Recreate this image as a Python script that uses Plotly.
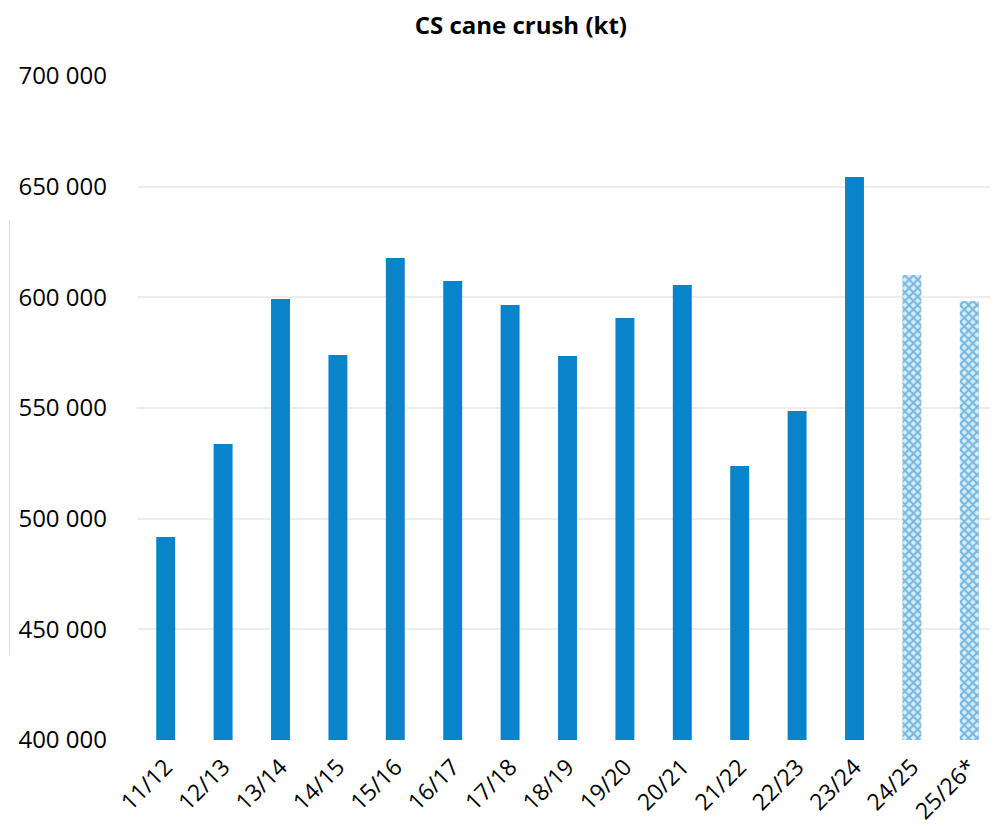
import plotly.graph_objects as go

categories = ["11/12", "12/13", "13/14", "14/15", "15/16", "16/17", "17/18", "18/19",
              "19/20", "20/21", "21/22", "22/23", "23/24", "24/25", "25/26*"]
crush_kt = [491700, 533700, 599200, 573900, 617800, 607400, 596500, 573500,
            590700, 605600, 523800, 548600, 654400, 610100, 598300]
forecast = [False] * 13 + [True, True]
tick_vals = [400000, 450000, 500000, 550000, 600000, 650000, 700000]
tick_text = ["400 000", "450 000", "500 000", "550 000", "600 000", "650 000", "700 000"]

blue = "#0984CA"
fig = go.Figure()
fig.add_trace(go.Bar(
    x=[c for c, f in zip(categories, forecast) if not f],
    y=[v for v, f in zip(crush_kt, forecast) if not f],
    marker=dict(color=blue, line=dict(width=0)),
    width=0.33,
))
fig.add_trace(go.Bar(
    x=[c for c, f in zip(categories, forecast) if f],
    y=[v for v, f in zip(crush_kt, forecast) if f],
    marker=dict(color="white", line=dict(width=0),
                pattern=dict(shape="x", fgcolor="#0A82C8", bgcolor="#D8ECF7", size=6, solidity=0.55)),
    width=0.33,
))
fig.update_layout(
    width=990, height=822,
    margin=dict(l=129, r=0, t=68, b=90),
    paper_bgcolor="white", plot_bgcolor="white",
    showlegend=False,
    barmode="overlay",
    font=dict(family="Open Sans, Liberation Sans, sans-serif", size=22, color="black"),
    title=dict(text="<b>CS cane crush (kt)</b>", x=0.518, xanchor="center", y=0.978, yanchor="middle",
               font=dict(size=24, color="black")),
    xaxis=dict(categoryorder="array", categoryarray=categories, tickangle=-45,
               showline=False, showgrid=False, ticks="", tickfont=dict(size=23),
               ticklabelstandoff=8, automargin=False),
    yaxis=dict(range=[400000, 700000], tickvals=tick_vals, ticktext=tick_text,
               showgrid=True, gridcolor="#EDEDED", gridwidth=1.5, zeroline=False,
               ticks="", ticklabelstandoff=29, tickfont=dict(size=24), automargin=False),
    shapes=[dict(type="line", xref="paper", yref="paper", x0=-0.148, x1=-0.148, y0=0.128, y1=0.783,
                 line=dict(color="#D9D9D9", width=1))],
)
fig.write_html("out.html")
